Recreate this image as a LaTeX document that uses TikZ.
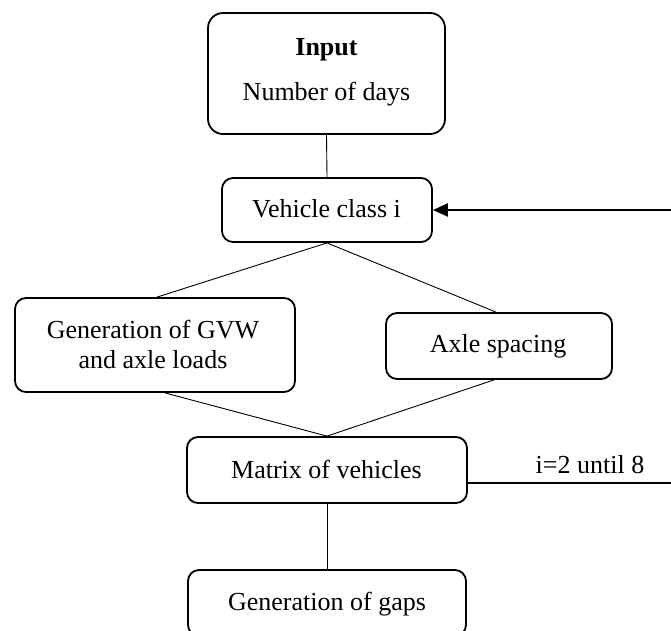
\documentclass[tikz,border=0pt]{standalone}
\usepackage{fontspec}
\setmainfont{Liberation Serif}
\usetikzlibrary{arrows.meta}
\begin{document}
\begin{tikzpicture}[x=1pt,y=-1pt,
  box/.style={draw, line width=1.8pt, rounded corners=11pt, inner sep=0pt, fill=white},
  txt/.style={anchor=base, inner sep=0pt, font=\fontsize{26}{30}\selectfont},
  conn/.style={line width=0.9pt},
  loopline/.style={line width=2.2pt}]
\useasboundingbox (0,0) rectangle (671,630);
\clip (0,0) rectangle (671,630);
% boxes
\node[box, rounded corners=15pt, minimum width=237pt, minimum height=121pt] (inp) at (326.5,73.5) {};
\node[box, minimum width=210pt, minimum height=64pt] (veh) at (327,210) {};
\node[box, minimum width=280pt, minimum height=94pt] (gvw) at (155,345) {};
\node[box, minimum width=226pt, minimum height=66pt] (axle) at (499,346) {};
\node[box, minimum width=280pt, minimum height=66pt] (mat) at (327,470) {};
\node[box, minimum width=278pt, minimum height=66pt] (gaps) at (327,603) {};
% texts
\node[txt] (t1) at (326.5,55) {\textbf{Input}};
\node[txt] (t2) at (326.5,100) {Number of days};
\node[txt] (t3) at (326.5,217) {Vehicle class i};
\node[txt] (t4) at (153,338) {Generation of GVW};
\node[txt] (t5) at (153,368) {and axle loads};
\node[txt] (t6) at (498,352) {Axle spacing};
\node[txt] (t7) at (326.5,478) {Matrix of vehicles};
\node[txt] (t8) at (327,610) {Generation of gaps};
\node[txt] (t9) at (590,473) {i=2 until 8};
% connectors
\draw[conn] (inp.south) -- (veh.north);
\draw[conn] (veh.south) -- ([xshift=2pt]gvw.north);
\draw[conn] (veh.south) -- ([xshift=-3pt]axle.north);
\draw[conn] ([xshift=10pt]gvw.south) -- (mat.north);
\draw[conn] ([xshift=-5pt]axle.south) -- (mat.north);
\draw[conn] (mat.south) -- (gaps.north);
% loop
\coordinate (rin) at (671,210);
\coordinate (rout) at (671,483);
\draw[loopline, -{Triangle[length=15pt,width=13pt]}] (rin) -- (veh.east);
\draw[loopline] (mat.east |- rout) -- (rout);
\end{tikzpicture}
\end{document}
